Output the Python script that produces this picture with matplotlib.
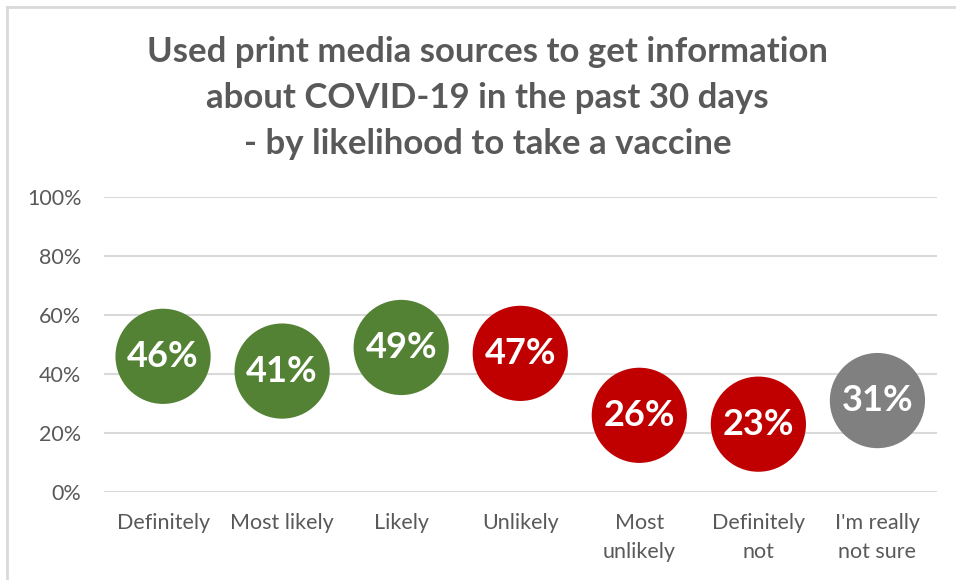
import matplotlib.pyplot as plt
from matplotlib.lines import Line2D

categorias = ["Definitely", "Most likely", "Likely", "Unlikely",
              "Most\nunlikely", "Definitely\nnot", "I'm really\nnot sure"]
valores = [46, 41, 49, 47, 26, 23, 31]
colores = ["#548235", "#548235", "#548235", "#C00000",
           "#C00000", "#C00000", "#808080"]
ticks_y = [0, 20, 40, 60, 80, 100]

plt.rcParams['font.family'] = ['Lato', 'DejaVu Sans']

fig = plt.figure(figsize=(9.56, 5.8), dpi=100)
ax = fig.add_axes([0.1083, 0.1517, 0.8718, 0.5086])

x = list(range(len(categorias)))
ax.scatter(x, valores, s=4700, c=colores, zorder=3, clip_on=False, linewidths=0)
for xi, v in zip(x, valores):
    ax.text(xi, v, f"{v}%", ha='center', va='center', color='white',
            fontsize=26, fontweight='bold', zorder=4)

ax.set_xlim(-0.5, len(categorias) - 0.5)
ax.set_ylim(0, 100)
ax.set_yticks(ticks_y)
ax.set_yticklabels([f"{t}%" for t in ticks_y])
ax.set_xticks(x)
ax.set_xticklabels(categorias, linespacing=1.55)
ax.tick_params(axis='both', length=0, labelsize=15.5, colors='#595959')
ax.tick_params(axis='y', pad=16)
ax.tick_params(axis='x', pad=15)
ax.yaxis.grid(True, color='#D9D9D9', linewidth=1.5, zorder=0)
ax.set_axisbelow(True)
for s in ax.spines.values():
    s.set_visible(False)

fig.text(0.51, 0.831, "Used print media sources to get information\n"
         "about COVID-19 in the past 30 days\n"
         "- by likelihood to take a vaccine",
         ha='center', va='center', fontsize=25, fontweight='bold',
         color='#595959', linespacing=1.55)

# marco del gráfico (solo arriba e izquierda)
fig.add_artist(Line2D([0.007, 1.0], [0.988, 0.988], color='#D9D9D9', linewidth=2))
fig.add_artist(Line2D([0.007, 0.007], [0.0, 0.988], color='#D9D9D9', linewidth=2))

fig.savefig("out.png", dpi=100)
